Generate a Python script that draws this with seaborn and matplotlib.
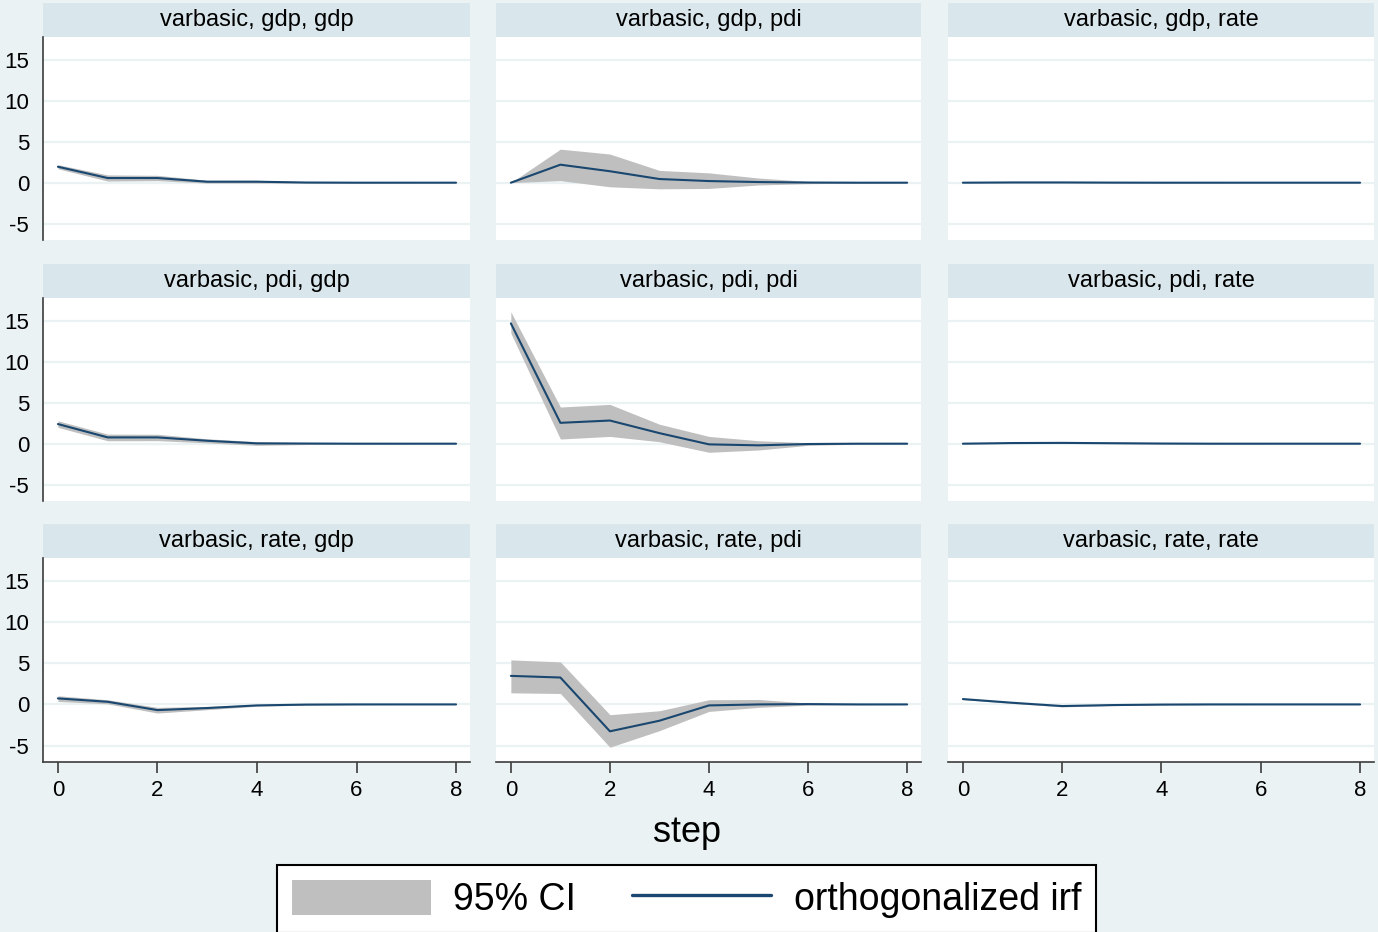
import seaborn as sns
import matplotlib.pyplot as plt
import pandas as pd
import numpy as np
from matplotlib.patches import Rectangle, Patch
from matplotlib.lines import Line2D

# Valeurs (impulse, response)
steps = [0, 1, 2, 3, 4, 5, 6, 7, 8]
variables = ['gdp', 'pdi', 'rate']

irf_gdp_gdp = [1.95, 0.57, 0.57, 0.12, 0.12, 0.02, 0.0, 0.0, 0.0]
lo_gdp_gdp = [1.7, 0.2, 0.25, -0.05, -0.05, -0.05, -0.02, -0.01, 0.0]
hi_gdp_gdp = [2.2, 0.95, 0.9, 0.3, 0.3, 0.1, 0.03, 0.01, 0.0]

irf_gdp_pdi = [0.0, 2.2, 1.4, 0.45, 0.2, 0.08, 0.02, 0.0, 0.0]
lo_gdp_pdi = [0.0, 0.25, -0.5, -0.75, -0.7, -0.28, -0.12, -0.05, -0.01]
hi_gdp_pdi = [0.0, 4.1, 3.5, 1.5, 1.2, 0.57, 0.16, 0.05, 0.01]

irf_gdp_rate = [0.0, 0.03, 0.03, 0.01, 0.0, 0.0, 0.0, 0.0, 0.0]
lo_gdp_rate = [0.0, -0.02, -0.02, -0.02, -0.02, -0.01, 0.0, 0.0, 0.0]
hi_gdp_rate = [0.0, 0.07, 0.07, 0.04, 0.02, 0.01, 0.0, 0.0, 0.0]

irf_pdi_gdp = [2.4, 0.77, 0.77, 0.36, 0.04, 0.02, 0.0, 0.0, 0.0]
lo_pdi_gdp = [2.0, 0.36, 0.37, 0.1, -0.2, -0.1, -0.03, -0.01, 0.0]
hi_pdi_gdp = [2.8, 1.17, 1.15, 0.6, 0.25, 0.12, 0.04, 0.01, 0.0]

irf_pdi_pdi = [14.7, 2.55, 2.83, 1.29, -0.08, -0.2, -0.04, 0.0, 0.0]
lo_pdi_pdi = [13.5, 0.57, 0.89, 0.24, -1.05, -0.77, -0.2, -0.06, -0.02]
hi_pdi_pdi = [16.1, 4.48, 4.8, 2.38, 0.89, 0.36, 0.12, 0.06, 0.02]

irf_pdi_rate = [0.0, 0.08, 0.1, 0.06, 0.02, 0.0, 0.0, 0.0, 0.0]
lo_pdi_rate = [0.0, 0.02, 0.03, 0.01, -0.02, -0.02, -0.01, 0.0, 0.0]
hi_pdi_rate = [0.0, 0.14, 0.17, 0.11, 0.06, 0.02, 0.01, 0.0, 0.0]

irf_rate_gdp = [0.73, 0.32, -0.69, -0.44, -0.12, -0.02, 0.0, 0.0, 0.0]
lo_rate_gdp = [0.36, 0.07, -1.05, -0.64, -0.22, -0.08, -0.03, -0.01, 0.0]
hi_rate_gdp = [1.05, 0.57, -0.36, -0.24, -0.02, 0.04, 0.03, 0.01, 0.0]

irf_rate_pdi = [3.47, 3.27, -3.27, -1.98, -0.12, 0.0, 0.04, 0.0, 0.0]
lo_rate_pdi = [1.41, 1.33, -5.2, -3.19, -0.85, -0.36, -0.08, -0.04, -0.01]
hi_rate_pdi = [5.41, 5.17, -1.25, -0.77, 0.57, 0.6, 0.16, 0.04, 0.01]

irf_rate_rate = [0.65, 0.2, -0.2, -0.08, -0.02, 0.0, 0.0, 0.0, 0.0]
lo_rate_rate = [0.58, 0.12, -0.3, -0.15, -0.06, -0.03, -0.01, 0.0, 0.0]
hi_rate_rate = [0.72, 0.28, -0.1, -0.01, 0.02, 0.03, 0.01, 0.0, 0.0]

series = {
    ('gdp', 'gdp'): (irf_gdp_gdp, lo_gdp_gdp, hi_gdp_gdp),
    ('gdp', 'pdi'): (irf_gdp_pdi, lo_gdp_pdi, hi_gdp_pdi),
    ('gdp', 'rate'): (irf_gdp_rate, lo_gdp_rate, hi_gdp_rate),
    ('pdi', 'gdp'): (irf_pdi_gdp, lo_pdi_gdp, hi_pdi_gdp),
    ('pdi', 'pdi'): (irf_pdi_pdi, lo_pdi_pdi, hi_pdi_pdi),
    ('pdi', 'rate'): (irf_pdi_rate, lo_pdi_rate, hi_pdi_rate),
    ('rate', 'gdp'): (irf_rate_gdp, lo_rate_gdp, hi_rate_gdp),
    ('rate', 'pdi'): (irf_rate_pdi, lo_rate_pdi, hi_rate_pdi),
    ('rate', 'rate'): (irf_rate_rate, lo_rate_rate, hi_rate_rate),
}

# DataFrame long
frames = []
for (imp, resp), (irf, lo, hi) in series.items():
    frames.append(pd.DataFrame({'impulse': imp, 'response': resp, 'step': steps,
                                'irf': irf, 'lo': lo, 'hi': hi}))
df = pd.concat(frames, ignore_index=True)

# Couleurs style Stata s2color
bg = '#EAF2F3'
strip = '#D9E6EB'
navy = '#1A476F'
ci_gray = '#BFBFBF'
axis_col = '#3C3C3C'

sns.set_style('white')
plt.rcParams['font.family'] = ['Liberation Sans', 'DejaVu Sans']
plt.rcParams['axes.unicode_minus'] = False
plt.rcParams['text.color'] = 'black'

W, H = 1378, 932
g = sns.FacetGrid(df, row='impulse', col='response', row_order=variables,
                  col_order=variables, sharex=False, sharey=False, despine=False)
fig = g.figure
fig.set_size_inches(W / 100, H / 100)
fig.set_dpi(100)
fig.patch.set_facecolor(bg)


def ci_band(data, **kws):
    plt.fill_between(data['step'], data['lo'], data['hi'], color=ci_gray, lw=0, zorder=2)


g.map_dataframe(ci_band)
g.map_dataframe(sns.lineplot, x='step', y='irf', color=navy, lw=1.5, zorder=3)
g.set_titles('')
g.set_axis_labels('', '')

col_x = [(43, 470), (496, 921), (948, 1374)]
row_y = [(37, 240), (298, 501), (558, 762)]
strip_px = 34

for i, imp in enumerate(variables):
    for j, resp in enumerate(variables):
        ax = g.axes[i, j]
        x0, x1 = col_x[j]
        y0, y1 = row_y[i]
        ax.set_position([x0 / W, 1 - y1 / H, (x1 - x0) / W, (y1 - y0) / H])
        ax.set_facecolor('white')
        ax.set_xlim(-0.3, 8.28)
        ax.set_ylim(-7, 17.8)
        ax.set_yticks([-5, 0, 5, 10, 15])
        ax.set_xticks([0, 2, 4, 6, 8])
        ax.yaxis.grid(True, color=bg, lw=1.6)
        ax.xaxis.grid(False)
        ax.set_axisbelow(True)
        for s in ax.spines.values():
            s.set_visible(False)
        ax.tick_params(axis='both', colors=axis_col, labelcolor='black', labelsize=16,
                       length=8, width=1.2, direction='out')
        ax.tick_params(axis='y', pad=2)
        ax.tick_params(axis='x', pad=5)
        if j == 0:
            ax.spines['left'].set_visible(True)
            ax.spines['left'].set_color(axis_col)
            ax.spines['left'].set_linewidth(1.2)
        else:
            ax.tick_params(axis='y', left=False, labelleft=False)
        if i == 2:
            ax.spines['bottom'].set_visible(True)
            ax.spines['bottom'].set_color(axis_col)
            ax.spines['bottom'].set_linewidth(1.2)
            ax.tick_params(axis='x', bottom=True, labelbottom=True)
        else:
            ax.tick_params(axis='x', bottom=False, labelbottom=False)
        sh = strip_px / (y1 - y0)
        ax.add_patch(Rectangle((0, 1), 1, sh, transform=ax.transAxes, clip_on=False,
                               facecolor=strip, edgecolor='none'))
        ax.text(0.5, 1 + sh / 2, f'varbasic, {imp}, {resp}', transform=ax.transAxes,
                ha='center', va='center', fontsize=17, color='black')

fig.text(687 / W, 1 - 832 / H, 'step', ha='center', va='center', fontsize=26,
         color='black')

handles = [Patch(facecolor=ci_gray, edgecolor='none'),
           Line2D([], [], color=navy, lw=2.4)]
leg = fig.legend(handles, ['95% CI', 'orthogonalized irf'], loc='upper center',
                 bbox_to_anchor=(686.5 / W, 1 - 865 / H), ncol=2, frameon=True,
                 fancybox=False, edgecolor='black', framealpha=1, fontsize=27,
                 handlelength=3.7, handleheight=1.05, handletextpad=0.6,
                 columnspacing=1.5, borderpad=0.4, borderaxespad=0,
                 labelcolor='black')
leg.get_frame().set_linewidth(1.5)

fig.savefig('out.png', dpi=100, facecolor=bg)
